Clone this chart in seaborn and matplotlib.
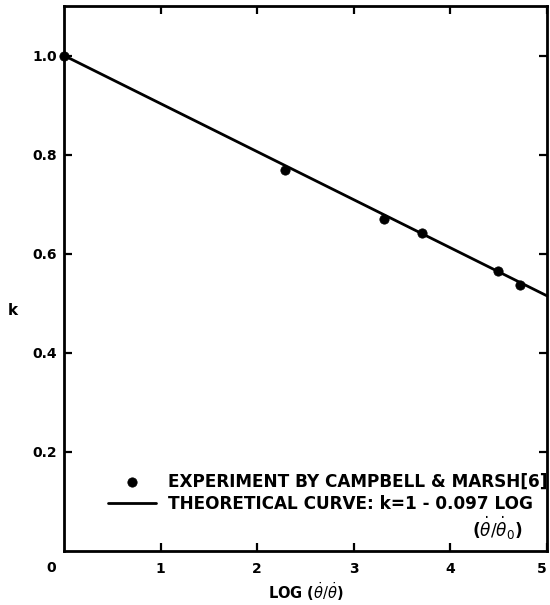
import matplotlib
matplotlib.use("Agg")
import matplotlib.pyplot as plt
import seaborn as sns
import pandas as pd

exp_log = [0.0, 2.29, 3.31, 3.71, 4.49, 4.72]
exp_k = [1.0, 0.770, 0.670, 0.642, 0.566, 0.536]

# theoretical line end points, k = 1 - 0.097 LOG
theo_log = [0.0, 5.0]
theo_k = [1.0, 0.515]

x_ticks = [1, 2, 3, 4, 5]
y_ticks = [0.2, 0.4, 0.6, 0.8, 1.0]

sns.set_theme(style="ticks")
plt.rcParams['font.family'] = ['DejaVu Sans']
plt.rcParams['text.color'] = 'black'
plt.rcParams['axes.labelcolor'] = 'black'

exp_df = pd.DataFrame({"log": exp_log, "k": exp_k})
theo_df = pd.DataFrame({"log": theo_log, "k": theo_k})

fig = plt.figure(figsize=(5.5, 6.05), dpi=100)
ax = fig.add_axes([64 / 550, 54 / 605, 483 / 550, 545 / 605])

sns.lineplot(data=theo_df, x="log", y="k", color="black", linewidth=2.0,
             label="THEORETICAL CURVE: k=1 - 0.097 LOG", ax=ax, clip_on=False)
sns.scatterplot(data=exp_df, x="log", y="k", color="black", s=45, edgecolor="black",
                label="EXPERIMENT BY CAMPBELL & MARSH[6]", ax=ax, clip_on=False, zorder=3)

ax.set_xlim(0, 5)
ax.set_ylim(0, 1.1)
ax.set_xticks(x_ticks)
ax.set_xticklabels([str(t) for t in x_ticks])
ax.set_yticks(y_ticks)
ax.set_yticklabels([f"{t:.1f}" for t in y_ticks])

for s in ax.spines.values():
    s.set_visible(True)
    s.set_linewidth(2.0)
    s.set_color("black")

ax.tick_params(axis="both", direction="in", length=6, width=1.6, colors="black",
               top=True, right=True, labelsize=10)
ax.tick_params(axis="x", pad=8)
ax.tick_params(axis="y", pad=5)
for lbl in ax.get_xticklabels() + ax.get_yticklabels():
    lbl.set_fontweight("bold")
# keep the last x label inside the figure edge
ax.get_xticklabels()[-1].set_ha("right")

ax.annotate("0", xy=(0, 0), xytext=(-9.4, -12.2), textcoords="offset points",
            ha="center", va="center", fontsize=10, fontweight="bold")

ax.set_xlabel("LOG ($\\dot{\\theta}/\\dot{\\theta}$)", fontsize=10.5, fontweight="bold")
ax.xaxis.set_label_coords(0.5, -0.074)
ax.xaxis.label.set_va("center")
ax.set_ylabel("k", rotation=0, fontsize=11, fontweight="bold")
ax.yaxis.set_label_coords(-0.106, 0.442)
ax.yaxis.label.set_va("center")
ax.yaxis.label.set_ha("center")

handles, labels = ax.get_legend_handles_labels()
leg = ax.legend([handles[1], handles[0]], [labels[1], labels[0]],
                loc="lower right", bbox_to_anchor=(1.0, 0.07), frameon=False,
                fontsize=12.2, handlelength=2.8, handletextpad=0.7,
                labelspacing=0.25, borderaxespad=0.0, borderpad=0.0)
for t in leg.get_texts():
    t.set_fontweight("bold")

# second line of the theoretical-curve label
ax.text(0.950, 0.042, "($\\dot{\\theta}/\\dot{\\theta}_0$)", transform=ax.transAxes,
        ha="right", va="center", fontsize=12.2, fontweight="bold")

fig.savefig("out.png", dpi=100)
